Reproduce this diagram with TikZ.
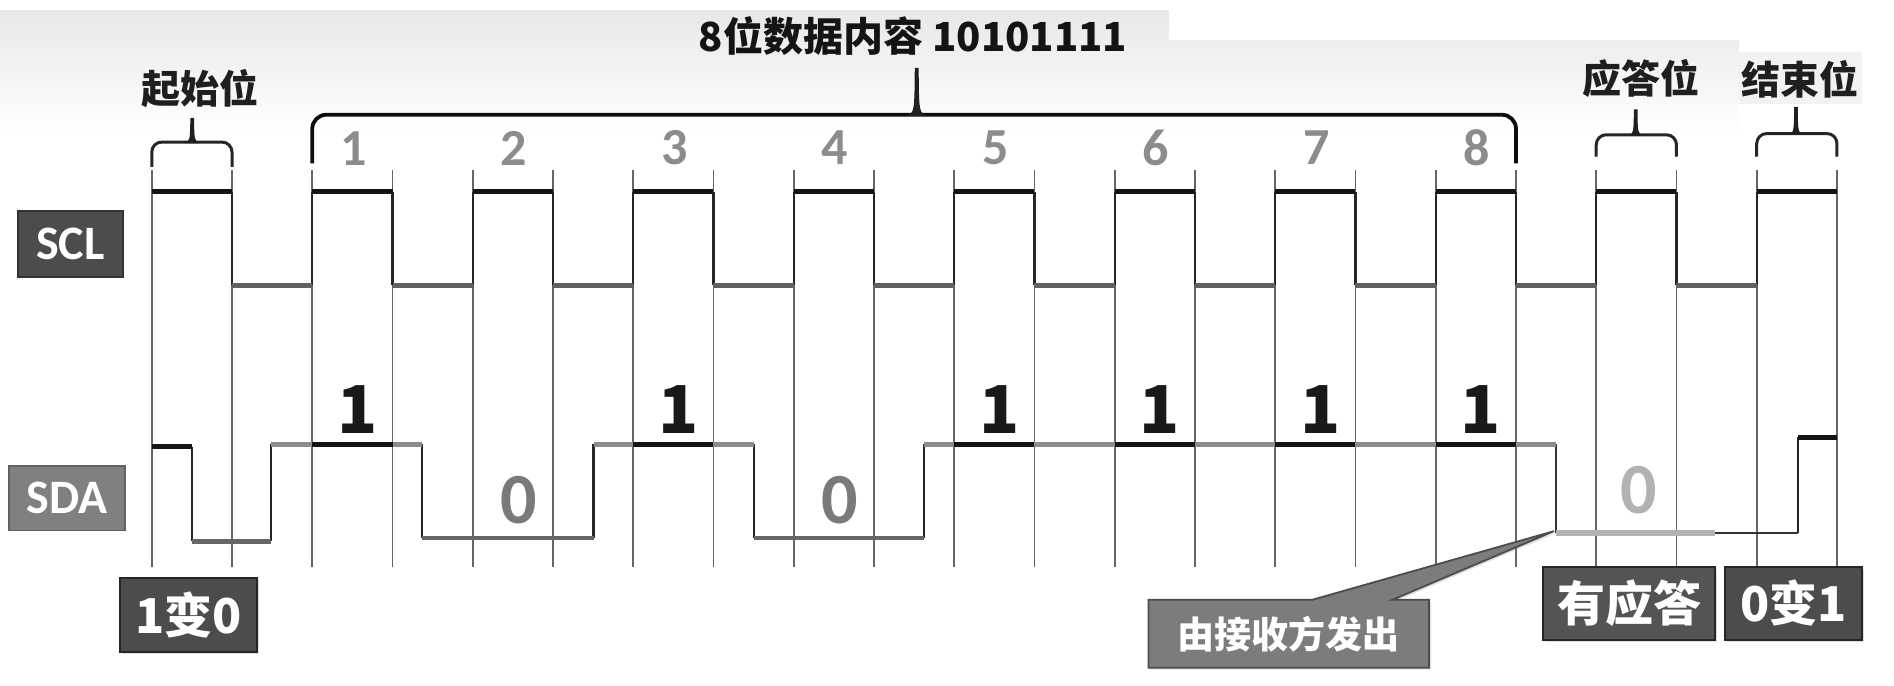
\documentclass[tikz,border=0pt]{standalone}
\usepackage{fontspec}
\setmainfont{Carlito}
\newfontfamily\cjk{Noto Sans CJK SC}
\usetikzlibrary{shadows}
\definecolor{boxdark}{HTML}{4C4C4C}
\definecolor{boxmid}{HTML}{808080}
\definecolor{recvgray}{HTML}{7C7C7C}
\newcommand\gxx[1]{125+66.1*(#1)}
\newcommand\fsz[1]{\fontsize{#1}{#1}\selectfont}
\tikzset{
  guide/.style={draw=black!60, line width=0.8pt},
  edgeline/.style={draw=black!85, line width=1.2pt},
  sclhi/.style={draw=black!92, line width=2.5pt},
  scllo/.style={draw=black!62, line width=2.2pt},
  sdahi/.style={draw=black!92, line width=2.5pt},
  sdagr/.style={draw=black!45, line width=2.2pt},
  sdalo/.style={draw=black!60, line width=2.2pt},
  ackline/.style={draw=black!30, line width=2.6pt},
  brc/.style={draw=black!85, line width=1.5pt, rounded corners=5pt},
  bigbrc/.style={draw=black!95, line width=1.9pt, rounded corners=7pt},
  brtip/.style={fill=black!88},
  sigbox/.style={draw=black!80, line width=0.9pt, inner sep=0pt, text=white,
    font=\bfseries\fsz{24pt}},
  labbox/.style={draw=black!85, line width=1pt, inner sep=0pt, text=white, fill=boxdark,
    font=\cjk\bfseries\fsz{24pt}, drop shadow={opacity=0.25, shadow xshift=1pt, shadow yshift=-1pt}},
  cjklab/.style={text=black!88, font=\cjk\bfseries\fsz{19.5pt}, inner sep=0pt},
  bitnum/.style={text=black!45, font=\bfseries\fsz{26pt}, inner sep=0pt},
  onebit/.style={text=black!90, font=\cjk\bfseries\fsz{33pt}, inner sep=0pt},
  zerobit/.style={text=black!52, font=\bfseries\fsz{36pt}, inner sep=0pt},
}
\begin{document}
\begin{tikzpicture}[x=0.607pt,y=-0.607pt]
\useasboundingbox (0,0) rectangle (1560.1,564.3);
% background band
\shade[top color=black!9, bottom color=white] (0,9) rectangle (1432,110);
\fill[white] (963,0) rectangle (1432,33);
\fill[black!5] (1432,43) rectangle (1534,86);

% guide lines
\foreach \i in {0,...,21} {
  \coordinate (g\i) at ({\gxx{\i}},0);
  \draw[guide] ({\gxx{\i}},140) -- ({\gxx{\i}},467);
}

% SCL waveform
\foreach \i in {1,...,20} {
  \draw[edgeline] ({\gxx{\i}},158) -- ({\gxx{\i}},235);
}
\foreach \k in {0,...,9} {
  \draw[scllo] ({\gxx{2*\k+1}},235) -- ({\gxx{2*\k+2}},235);
}
\foreach \k in {0,...,10} {
  \draw[sclhi] ({\gxx{2*\k}},158) -- ({\gxx{2*\k+1}},158);
}

% SDA waveform
\draw[edgeline] (158,368) -- (158,446) (223,446) -- (223,366)
  (347.5,366) -- (347.5,443) (489,443) -- (489,366)
  (621,366) -- (621,443) (761,443) -- (761,366)
  (1481,439) -- (1481,360);
\draw[draw=black!80, line width=1pt] (1282,366) -- (1282,439);
\draw[sdahi] ({\gxx0},368) -- (158,368);
\draw[sdalo] (158,446) -- (223,446);
\draw[sdagr] (223,366) -- (347.5,366);
\draw[sdalo] (347.5,443) -- (489,443);
\draw[sdagr] (489,366) -- (621,366);
\draw[sdalo] (621,443) -- (761,443);
\draw[sdagr] (761,366) -- (1282,366);
\foreach \k in {1,3,5,6,7,8} {
  \draw[sdahi] ({\gxx{2*\k}},366) -- ({\gxx{2*\k+1}},366);
}
\draw[ackline] (1282,439) -- (1413,439);
\draw[draw=black!80, line width=1.3pt] (1413,439) -- (1481,439);
\draw[sdahi] (1481,360) -- ({\gxx{21}},360);

% braces
\draw[brc] ({\gxx0},137.5) -- ({\gxx0},117) -- ({\gxx1},117) -- ({\gxx1},137.5);
\fill[brtip] (152,117.8) .. controls (156.5,116) .. (156.8,97) -- (159.8,97) .. controls (160.1,116) .. (164.6,117.8) -- cycle;
\draw[bigbrc] ({\gxx2},134.5) -- ({\gxx2},94.5) -- ({\gxx{17}},94.5) -- ({\gxx{17}},134.5);
\fill[brtip] (746,95.5) .. controls (753.2,93) .. (753.5,56) -- (756.7,56) .. controls (757,93) .. (764,95.5) -- cycle;
\draw[brc] ({\gxx{18}},129) -- ({\gxx{18}},111) -- ({\gxx{19}},111) -- ({\gxx{19}},129);
\fill[brtip] (1341,111.8) .. controls (1345.6,110) .. (1345.8,90) -- (1348.8,90) .. controls (1349,110) .. (1353.8,111.8) -- cycle;
\draw[brc] ({\gxx{20}},129) -- ({\gxx{20}},110) -- ({\gxx{21}},110) -- ({\gxx{21}},129);
\fill[brtip] (1473,110.8) .. controls (1477.6,109) .. (1477.8,88) -- (1480.8,88) .. controls (1481,109) .. (1485.8,110.8) -- cycle;

% top labels
\node[font=\cjk\bfseries\fsz{20pt}, text=black!92, inner sep=0pt] (title) at (752,30) {8位数据内容 10101111};
\node[cjklab] (startlab) at (165,73) {起始位};
\node[cjklab] (acklab) at (1352,65) {应答位};
\node[cjklab] (stoplab) at (1483,65) {结束位};

% bit numbers
\foreach \n in {1,...,8} {
  \node[bitnum] (num\n) at ({\gxx{2*\n}+34},122) {\n};
}
% data values
\foreach \k in {1,3,5,6,7,8} {
  \node[onebit] (one\k) at ({\gxx{2*\k}+37},337) {1};
}
\foreach \k in {2,4} {
  \node[zerobit] (zero\k) at ({\gxx{2*\k}+38},412) {0};
}
\node[zerobit, text=black!30] (ackzero) at (1350,404) {0};

% signal boxes
\node[sigbox, fill=boxdark, minimum width=52.2pt, minimum height=32.8pt] (scl) at (58,201) {SCL};
\node[sigbox, fill=boxmid, draw=black!62, minimum width=58pt, minimum height=32.2pt] (sda) at (55.2,410.5) {SDA};

% bottom boxes
\node[labbox, minimum width=68.3pt, minimum height=37pt] (startbox) at (155.25,506.5) {1变0};
\node[labbox, fill=black!67, minimum width=86.2pt, minimum height=36.4pt] (ackbox) at (1342,497) {有应答};
\node[labbox, minimum width=68.6pt, minimum height=36.4pt] (stopbox) at (1477.5,497) {0变1};

% callout
\coordinate (acktip) at (1280,437.5);
\path[fill=recvgray, draw=black!70, line width=0.9pt, drop shadow={opacity=0.25, shadow xshift=1pt, shadow yshift=-1pt}]
  (946,494) -- (1081,494) -- (acktip) -- (1147,494) -- (1177,494) -- (1177,550) -- (946,550) -- cycle;
\node[text=white, font=\cjk\bfseries\fsz{18.5pt}, inner sep=0pt] (recv) at (1061.5,522) {由接收方发出};
\end{tikzpicture}
\end{document}
